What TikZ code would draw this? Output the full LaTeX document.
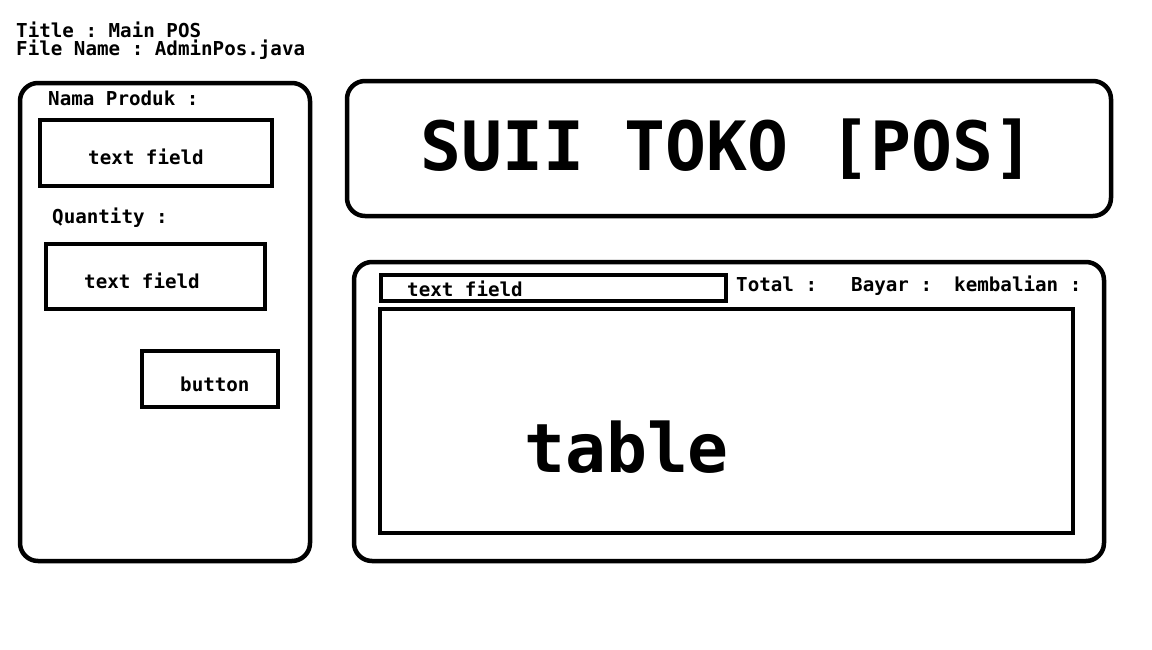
\documentclass[tikz,border=0pt]{standalone}
\usepackage{fontspec}
\setmonofont{DejaVu Sans Mono}
\usepackage{tikz}
\newcommand{\smalltxt}{\ttfamily\bfseries\fontsize{19.2}{19.2}\selectfont}
\newcommand{\bigtxt}{\ttfamily\bfseries\fontsize{68}{68}\selectfont}
\tikzset{
    panel/.style={draw, line width=4.5pt, rounded corners=18pt},
    field/.style={draw, line width=4pt},
    lbl/.style={anchor=base west, inner sep=0pt, font=\smalltxt},
    biglbl/.style={anchor=base west, inner sep=0pt, font=\bigtxt}
}

\begin{document}
\begin{tikzpicture}[x=1pt,y=-1pt]
    \useasboundingbox (0,0) rectangle (1152,649);
    % header
    \node[lbl] (title) at (16,37) {Title : Main POS};
    \node[lbl] (file) at (16,55) {File Name : AdminPos.java};
    % left panel
    \draw[panel] (20,83) rectangle (310,561);
    \node[lbl] (nama) at (48,105) {Nama Produk :};
    \draw[field] (40,120) rectangle (272,186);
    \node[lbl] (namafield) at (88,164) {text field};
    \node[lbl] (qty) at (52,223) {Quantity :};
    \draw[field] (46,244) rectangle (265,309);
    \node[lbl] (qtyfield) at (84,288) {text field};
    \draw[field] (142,351) rectangle (278,407);
    \node[lbl] (btn) at (180,391) {button};
    % banner
    \draw[panel] (347,81) rectangle (1111,216);
    \node[biglbl] (brand) at (420,170) {SUII TOKO [POS]};
    % bottom panel
    \draw[panel] (354,262) rectangle (1104,561);
    \draw[field] (381,275) rectangle (726,301);
    \node[lbl] (codefield) at (407,296) {text field};
    \node[lbl] (total) at (736,291) {Total :};
    \node[lbl] (bayar) at (851,291) {Bayar :};
    \node[lbl] (kembali) at (954,291) {kembalian :};
    \draw[field] (380,309) rectangle (1073,533);
    \node[biglbl] (tbl) at (524,472) {table};
\end{tikzpicture}
\end{document}
